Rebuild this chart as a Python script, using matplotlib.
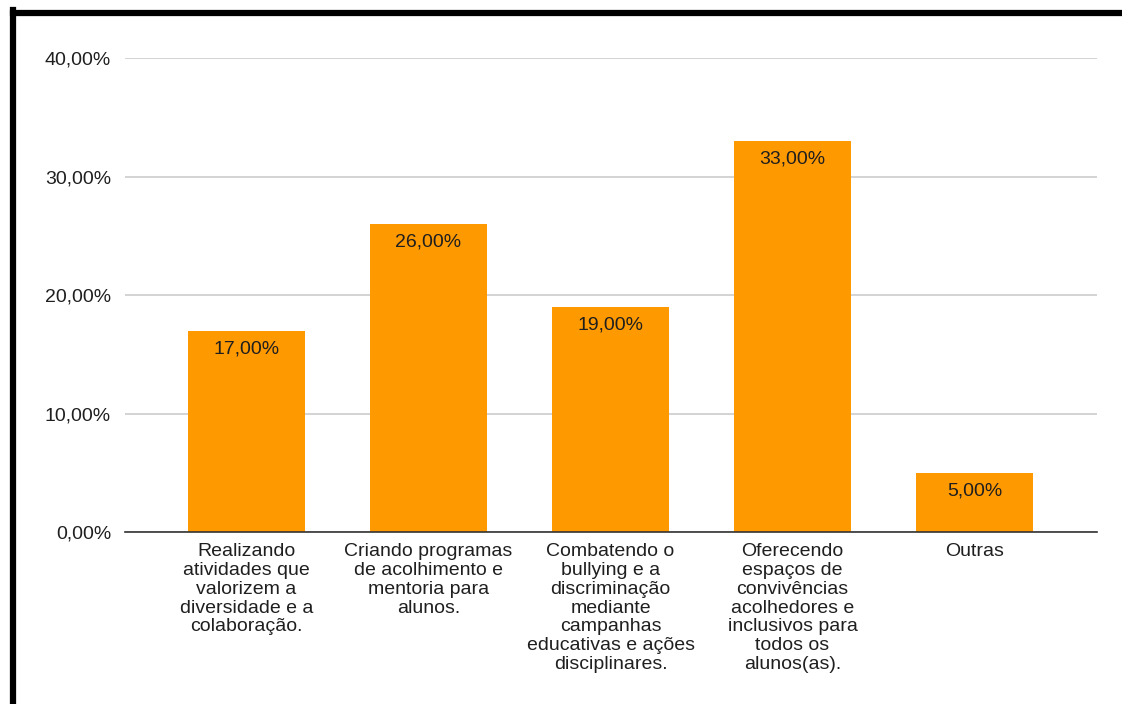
import matplotlib.pyplot as plt
from matplotlib.lines import Line2D

plt.rcParams['font.family'] = ['Liberation Sans', 'DejaVu Sans']

categorias = [
    "Realizando\natividades que\nvalorizem a\ndiversidade e a\ncolaboração.",
    "Criando programas\nde acolhimento e\nmentoria para\nalunos.",
    "Combatendo o\nbullying e a\ndiscriminação\nmediante\ncampanhas\neducativas e ações\ndisciplinares.",
    "Oferecendo\nespaços de\nconvivências\nacolhedores e\ninclusivos para\ntodos os\nalunos(as).",
    "Outras",
]
percentuais = [17.0, 26.0, 19.0, 33.0, 5.0]
ticks_y = [0, 10, 20, 30, 40]


def fmt_pct(v):
    return "{:.2f}%".format(v).replace(".", ",")


fig = plt.figure(figsize=(11.22, 7.04), dpi=100)
ax = fig.add_axes([0.1114, 0.2443, 0.8663, 0.6733])

x = list(range(len(categorias)))
bars = ax.bar(x, percentuais, width=0.643, color="#ff9900", zorder=2)

for b, v in zip(bars, percentuais):
    ax.annotate(fmt_pct(v), (b.get_x() + b.get_width() / 2, v),
                xytext=(0, -7), textcoords="offset points",
                ha="center", va="top", fontsize=14, color="#1f1f1f", zorder=3)

ax.set_xlim(-0.668, 4.673)
ax.set_ylim(0, 40)
ax.set_yticks(ticks_y)
ax.set_yticklabels([fmt_pct(t) for t in ticks_y], fontsize=14, color="#1f1f1f")
ax.set_xticks(x)
ax.set_xticklabels(categorias, fontsize=14, color="#1f1f1f", linespacing=1.14, va="top")
ax.tick_params(axis="both", length=0)
ax.tick_params(axis="y", pad=10)
ax.tick_params(axis="x", pad=8)

ax.grid(axis="y", color="#cccccc", linewidth=1.2, zorder=0)
for s in ["top", "right", "left"]:
    ax.spines[s].set_visible(False)
ax.spines["bottom"].set_color("#333333")
ax.spines["bottom"].set_linewidth(1.2)
ax.spines["bottom"].set_zorder(4)

# black frame on the left and top edges
fig.add_artist(Line2D([12.5 / 1122, 12.5 / 1122], [0, 1 - 10 / 704],
                      transform=fig.transFigure, color="black", linewidth=4.5,
                      solid_capstyle="projecting"))
fig.add_artist(Line2D([12.5 / 1122, 1], [1 - 12.5 / 704, 1 - 12.5 / 704],
                      transform=fig.transFigure, color="black", linewidth=4.5,
                      solid_capstyle="projecting"))

fig.savefig("out.png", dpi=100, facecolor="white")
